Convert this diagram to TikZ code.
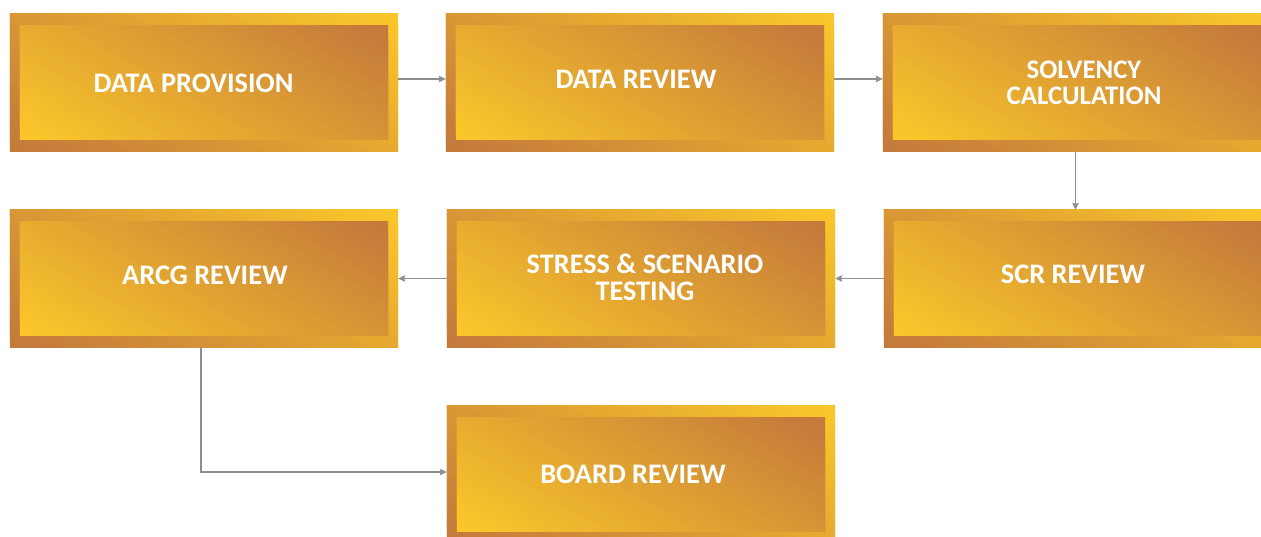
\documentclass[tikz,border=0pt]{standalone}
\usepackage{fontspec}
\setmainfont{Carlito}
\usetikzlibrary{arrows.meta}

\definecolor{goldbrown}{HTML}{C47A3B}
\definecolor{goldyellow}{HTML}{FAC62A}
\definecolor{linkgray}{HTML}{8E8E8E}

% diagonal gradient direction of the stage boxes (degrees above horizontal)
\def\gradangle{60}

\tikzset{
  stagebox/.style={minimum width=388pt, minimum height=137pt, inner sep=0pt},
  stagetext/.style={
    text=white, inner sep=0pt, align=center,
    font=\bfseries\fontsize{28.3}{27.3}\selectfont
  },
  link/.style={
    draw=linkgray, line width=1.2pt,
    -{Stealth[length=7pt,width=6.5pt,inset=1pt]}
  }
}

% \gradband{half length}{start colour}{end colour}: linear gradient along the
% local x axis, built from thin bands, saturated beyond +-half length
\newcommand\gradband[3]{%
  \fill[#2] (-400pt,-320pt) rectangle (0pt,320pt);
  \fill[#3] (0pt,-320pt) rectangle (400pt,320pt);
  \pgfmathsetmacro\bandstep{#1/32}%
  \foreach \i in {0,...,63}{%
    \pgfmathsetmacro\pct{100*(\i+0.5)/64}%
    \pgfmathsetmacro\xa{-#1+\i*\bandstep}%
    \pgfmathsetmacro\xb{\xa+\bandstep+0.6}%
    \fill[#3!\pct!#2] (\xa pt,-320pt) rectangle (\xb pt,320pt);
  }%
}

% \drawstage{name}{x}{y}: framed box with two opposite diagonal gradients
\newcommand\drawstage[3]{%
  \node[stagebox] (#1) at (#2,#3) {};
  \begin{scope}
    \clip (#1.south west) rectangle (#1.north east);
    \begin{scope}[shift={(#2,#3)}, rotate=\gradangle]
      \gradband{148}{goldbrown}{goldyellow}
    \end{scope}
    \clip ([xshift=10pt,yshift=12pt]#1.south west)
      rectangle ([xshift=-10pt,yshift=-12pt]#1.north east);
    \begin{scope}[shift={(#2,#3)}, rotate=\gradangle]
      \gradband{132}{goldyellow}{goldbrown}
    \end{scope}
  \end{scope}
}

\begin{document}
\begin{tikzpicture}[x=1pt,y=-1pt]
  \useasboundingbox (0,0) rectangle (1261,536);
  \clip (0,0) rectangle (1261,536);

  % process stages
  \drawstage{dp}{204}{82.5}
  \drawstage{dr}{640}{82.5}
  \drawstage{sc}{1077}{82.5}
  \drawstage{arcg}{204}{278.5}
  \drawstage{st}{641}{278.5}
  \drawstage{scr}{1078}{278.5}
  \drawstage{br}{641}{474.5}

  % stage labels
  \node[stagetext] (tdp)   at (193.5,83)  {DATA PROVISION};
  \node[stagetext] (tdr)   at (636,79)    {DATA REVIEW};
  \node[stagetext, font=\bfseries\fontsize{26.8}{26.3}\selectfont]
                   (tsc)   at (1084,82.5) {SOLVENCY\\CALCULATION};
  \node[stagetext] (tarcg) at (205,275)   {ARCG REVIEW};
  \node[stagetext] (tst)   at (645,277.5) {STRESS \& SCENARIO\\TESTING};
  \node[stagetext] (tscr)  at (1073,274)  {SCR REVIEW};
  \node[stagetext] (tbr)   at (633,474)   {BOARD REVIEW};

  % flow between stages
  \draw[link] ([yshift=3.5pt]dp.east) -- ([yshift=3.5pt]dr.west);
  \draw[link] ([yshift=3.5pt]dr.east) -- ([yshift=3.5pt]sc.west);
  \draw[link] ([xshift=-1.5pt]sc.south) -- ([xshift=-2.5pt]scr.north);
  \draw[link] (scr.west) -- (st.east);
  \draw[link] (st.west) -- (arcg.east);
  \draw[link] ([xshift=-3pt]arcg.south) |- ([yshift=2.5pt]br.west);
\end{tikzpicture}
\end{document}
